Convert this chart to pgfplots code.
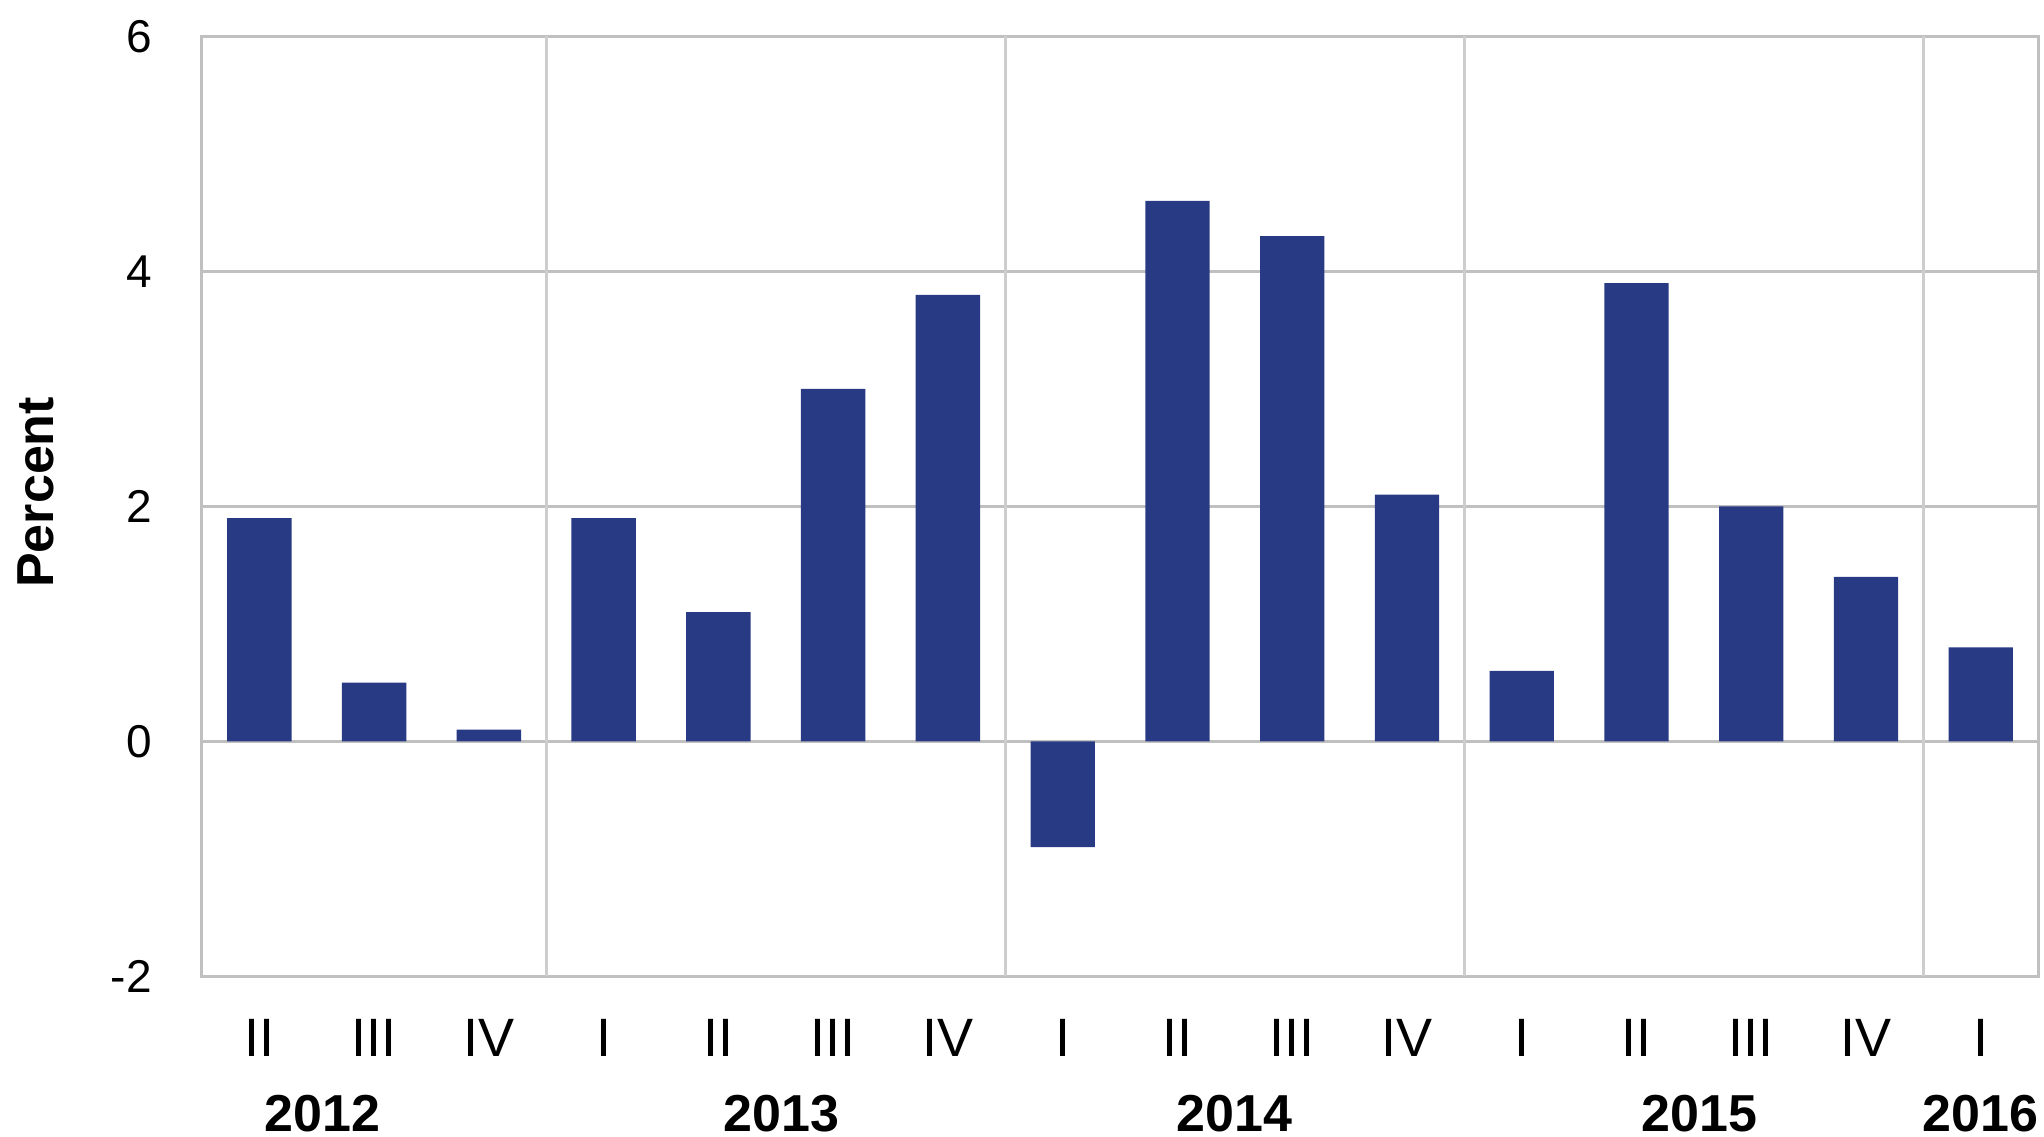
\documentclass[border=0pt]{standalone}
\usepackage{fontspec}
\setmainfont{Liberation Sans}
\usepackage{pgfplots}
\pgfplotsset{compat=1.18}
\definecolor{barblue}{RGB}{40,58,132}
\definecolor{gridgray}{RGB}{192,192,192}
\definecolor{sepgray}{RGB}{205,205,205}
\begin{document}
\begin{tikzpicture}[year/.style={font=\fontsize{13}{15}\selectfont\bfseries, anchor=base, yshift=-38.7pt}]
\useasboundingbox (-50.5pt,-40pt) rectangle (460.5pt,244.1pt);
\begin{axis}[
  scale only axis,
  width=459pt, height=235pt,
  xmin=-0.5, xmax=15.5,
  ymin=-2, ymax=6,
  ytick={-2,0,2,4,6},
  yticklabels={-2,0,2,4,6},
  xtick={0,...,15},
  xticklabels={II,III,IV,I,II,III,IV,I,II,III,IV,I,II,III,IV,I},
  major tick length=0pt,
  ymajorgrids,
  major grid style={gridgray, line width=0.75pt},
  extra x ticks={2.5,6.5,10.5,14.5},
  extra x tick labels={},
  extra x tick style={grid=major, major grid style={sepgray, line width=0.75pt}},
  axis line style={gridgray, line width=0.75pt},
  yticklabel style={font=\fontsize{11.5}{13}\selectfont, xshift=-9pt},
  xticklabel style={font=\fontsize{13.5}{15}\selectfont, anchor=base, yshift=-20pt},
  ylabel={Percent},
  ylabel style={font=\fontsize{13}{15}\selectfont\bfseries, at={(axis description cs:0,0.515)}, anchor=center, yshift=41.5pt},
  clip=false,
]
\addplot[ybar, bar width=0.56, fill=barblue, draw=none] coordinates {
(0,1.9) (1,0.5) (2,0.1) (3,1.9) (4,1.1) (5,3.0) (6,3.8) (7,-0.9)
(8,4.6) (9,4.3) (10,2.1) (11,0.6) (12,3.9) (13,2.0) (14,1.4) (15,0.8)
};
\node[year] at (axis cs:0.55,-2) {2012};
\node[year] at (axis cs:4.55,-2) {2013};
\node[year] at (axis cs:8.5,-2) {2014};
\node[year] at (axis cs:12.55,-2) {2015};
\node[year] at (axis cs:15,-2) {2016};
\end{axis}
\end{tikzpicture}
\end{document}
